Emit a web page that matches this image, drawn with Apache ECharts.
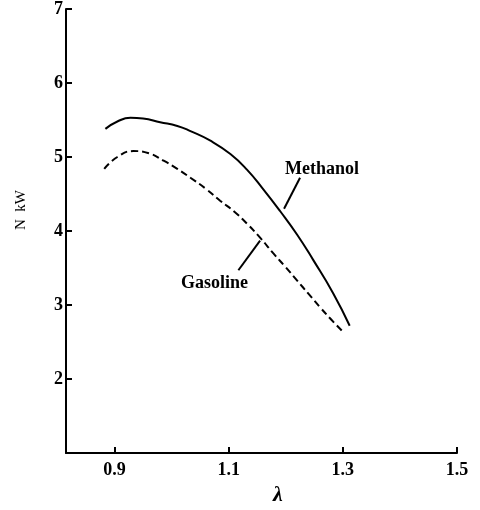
<!DOCTYPE html>
<html>
<head>
<meta charset="utf-8">
<script src="https://cdn.jsdelivr.net/npm/echarts@6/dist/echarts.min.js"></script>
<style>
    html, body { margin: 0; padding: 0; background: #fff; }
    #chart { width: 480px; height: 510px; }
</style>
</head>
<body>
<div id="chart"></div>
<script>
// values (lambda, N kW)
const methanolLambda = [0.884, 0.905, 0.928, 0.95, 0.98, 1.01, 1.033, 1.068, 1.103, 1.132, 1.16, 1.19, 1.22, 1.248, 1.283, 1.312];
const methanolN = [5.38, 5.48, 5.53, 5.52, 5.47, 5.42, 5.35, 5.22, 5.04, 4.83, 4.57, 4.27, 3.95, 3.61, 3.16, 2.72];
const gasolineLambda = [0.882, 0.905, 0.933, 0.96, 0.986, 1.01, 1.033, 1.06, 1.085, 1.11, 1.132, 1.155, 1.178, 1.2, 1.22, 1.24, 1.26, 1.28, 1.30];
const gasolineN = [4.84, 5.0, 5.08, 5.05, 4.95, 4.84, 4.72, 4.57, 4.41, 4.26, 4.10, 3.91, 3.70, 3.51, 3.33, 3.15, 2.97, 2.80, 2.64];
const xTicks = [0.9, 1.1, 1.3, 1.5];
const yTicks = [2, 3, 4, 5, 6, 7];
// leader lines from label to curve
const methanolLeader = [[1.225, 4.72], [1.197, 4.30]];
const gasolineLeader = [[1.155, 3.87], [1.117, 3.47]];

const serif = '"Liberation Serif", "DejaVu Serif", serif';

function pairs(xs, ys) {
    return xs.map((x, i) => [x, ys[i]]);
}

var chart = echarts.init(document.getElementById('chart'));
var option = {
    animation: false,
    backgroundColor: '#fff',
    grid: { left: 66, right: 23, top: 9, bottom: 57 },
    xAxis: {
        type: 'value',
        min: 0.815,
        max: 1.5,
        splitLine: { show: false },
        axisLine: { lineStyle: { color: '#000', width: 2 } },
        axisTick: { inside: true, length: 6, customValues: xTicks, lineStyle: { color: '#000', width: 2 } },
        axisLabel: {
            customValues: xTicks,
            margin: 8,
            color: '#000',
            fontFamily: serif,
            fontSize: 18,
            fontWeight: 'bold',
            formatter: v => v.toFixed(1)
        }
    },
    yAxis: {
        type: 'value',
        min: 1,
        max: 7,
        interval: 1,
        splitLine: { show: false },
        axisLine: { lineStyle: { color: '#000', width: 2 } },
        axisTick: { inside: true, length: 6, lineStyle: { color: '#000', width: 2 } },
        axisLabel: {
            margin: 3,
            color: '#000',
            fontFamily: serif,
            fontSize: 18,
            fontWeight: 'bold',
            formatter: v => (yTicks.indexOf(v) >= 0 ? String(v) : '')
        }
    },
    series: [
        {
            name: 'Methanol',
            type: 'line',
            smooth: true,
            symbol: 'none',
            data: pairs(methanolLambda, methanolN),
            lineStyle: { color: '#000', width: 2 }
        },
        {
            name: 'Gasoline',
            type: 'line',
            smooth: true,
            symbol: 'none',
            data: pairs(gasolineLambda, gasolineN),
            lineStyle: { color: '#000', width: 2, type: [7, 4] }
        },
        {
            type: 'line',
            symbol: 'none',
            data: methanolLeader,
            lineStyle: { color: '#000', width: 2 }
        },
        {
            type: 'line',
            symbol: 'none',
            data: gasolineLeader,
            lineStyle: { color: '#000', width: 2 }
        }
    ],
    graphic: [
        {
            type: 'text', left: 285, top: 160,
            style: { text: 'Methanol', fill: '#000', font: 'bold 18px ' + serif }
        },
        {
            type: 'text', left: 181, top: 274,
            style: { text: 'Gasoline', fill: '#000', font: 'bold 18px ' + serif }
        },
        {
            type: 'text', x: 21, y: 210, rotation: Math.PI / 2,
            style: { text: 'N  kW', fill: '#000', font: '15px ' + serif, align: 'center', verticalAlign: 'middle' }
        },
        {
            type: 'text', x: 278, y: 495,
            style: { text: 'λ', fill: '#000', font: 'italic bold 22px ' + serif, align: 'center', verticalAlign: 'middle' }
        }
    ]
};
chart.setOption(option);
</script>
</body>
</html>
